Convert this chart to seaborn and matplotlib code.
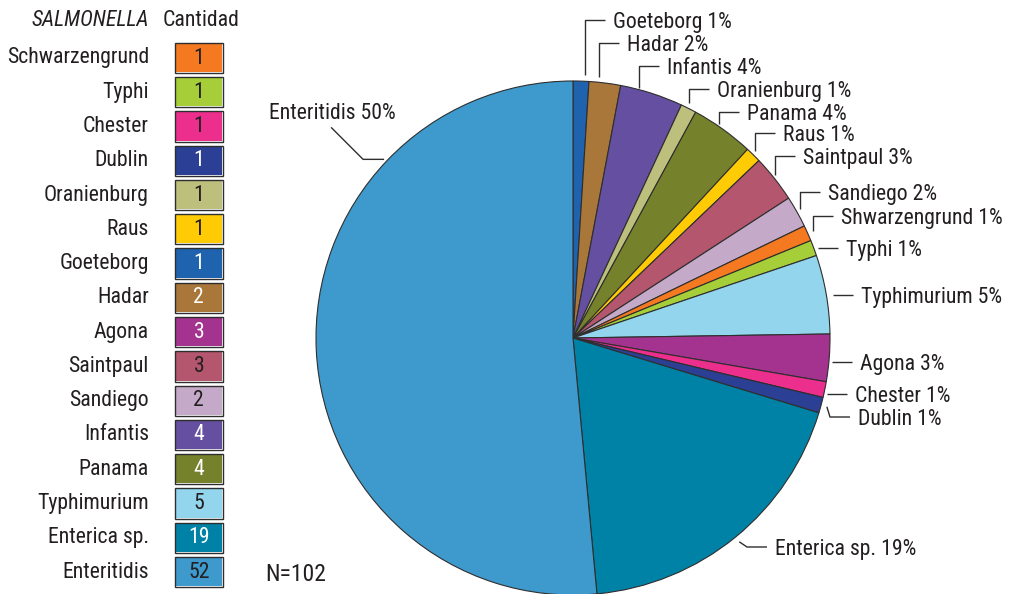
import numpy as np
import matplotlib
matplotlib.use("Agg")
import matplotlib.pyplot as plt
from matplotlib.colors import ListedColormap
from matplotlib.patches import Rectangle
import seaborn as sns

# ---------------- data ----------------
legend_names = ["Schwarzengrund", "Typhi", "Chester", "Dublin", "Oranienburg", "Raus",
                "Goeteborg", "Hadar", "Agona", "Saintpaul", "Sandiego", "Infantis",
                "Panama", "Typhimurium", "Enterica sp.", "Enteritidis"]
legend_counts = [1, 1, 1, 1, 1, 1, 1, 2, 3, 3, 2, 4, 4, 5, 19, 52]

pie_names = ["Goeteborg", "Hadar", "Infantis", "Oranienburg", "Panama", "Raus", "Saintpaul",
             "Sandiego", "Shwarzengrund", "Typhi", "Typhimurium", "Agona", "Chester",
             "Dublin", "Enterica sp.", "Enteritidis"]
pie_counts = [1, 2, 4, 1, 4, 1, 3, 2, 1, 1, 5, 3, 1, 1, 19, 52]
pie_pcts = [1, 2, 4, 1, 4, 1, 3, 2, 1, 1, 5, 3, 1, 1, 19, 50]
n_text = "N=102"

colors = {
    "Schwarzengrund": "#F47920", "Shwarzengrund": "#F47920", "Typhi": "#A6CE39",
    "Chester": "#EC2E8C", "Dublin": "#2B3F94", "Oranienburg": "#BDBF7D",
    "Raus": "#FFCB05", "Goeteborg": "#1F63AF", "Hadar": "#A9773A", "Agona": "#A3338F",
    "Saintpaul": "#B3566E", "Sandiego": "#C4AAC8", "Infantis": "#654FA0",
    "Panama": "#75812B", "Typhimurium": "#92D5ED", "Enterica sp.": "#0082A6",
    "Enteritidis": "#3E9ACD",
}
white_text = {"Dublin", "Goeteborg", "Hadar", "Agona", "Infantis", "Panama", "Enterica sp."}

# ---------------- style ----------------
sns.set_theme(style="white")
plt.rcParams["font.family"] = ["Roboto Condensed", "DejaVu Sans"]
TXT = "#231f20"
EDGE = "#2e2e2e"
FS = 15.7

W, H = 1009, 594
fig = plt.figure(figsize=(W / 100, H / 100), dpi=100)

# ---------------- pie ----------------
CX, CY, R = 573, 338, 257
ax_pie = fig.add_axes([(CX - R) / W, (H - CY - R) / H, 2 * R / W, 2 * R / H])
wedges, _ = ax_pie.pie(pie_counts, colors=[colors[n] for n in pie_names], startangle=90,
                       counterclock=False,
                       wedgeprops=dict(edgecolor=EDGE, linewidth=0.8))
for w in wedges:
    w.set_clip_on(False)
ax_pie.set_xlim(-1, 1)
ax_pie.set_ylim(-1, 1)
ax_pie.set_aspect("auto")
ax_pie.axis("off")

# ---------------- overlay for labels ----------------
ax_o = fig.add_axes([0, 0, 1, 1])
ax_o.set_xlim(0, W)
ax_o.set_ylim(H, 0)
ax_o.axis("off")

counts = np.array(pie_counts, dtype=float)
total = counts.sum()
starts = np.cumsum(counts) - counts
mid_deg = (starts + counts / 2) / total * 360.0

lab_x = [613, 627, 667, 717, 747, 783, 803, 828, 841, 846, 861, 860, 855, 858, 775, 396]
lab_y = [20, 43, 66, 89, 112, 133, 156, 192, 216, 248, 295, 362, 394, 417, 547, 111]
styles = ["v"] * 9 + ["h"] * 4 + ["d", "d", "e"]


def edge_pt(deg, r):
    a = np.deg2rad(deg)
    return CX + r * np.sin(a), CY - r * np.cos(a)


for name, pct, tx, ty, st, md in zip(pie_names, pie_pcts, lab_x, lab_y, styles, mid_deg):
    if st == "v":
        _, ye = edge_pt(md, R + 6)
        pts = [(tx - 8, ty), (tx - 28, ty), (tx - 28, ye)]
    elif st == "h":
        pts = [(tx - 8, ty), (tx - 28, ty)]
    elif st == "d":
        pts = [(tx - 8, ty), (tx - 28, ty), edge_pt(md, R + 6)]
    else:
        axp, ayp = edge_pt(313.4, R + 3)
        pts = [(axp, ayp), (axp - 21, ayp), (axp - 53, ayp - 32)]
    xs, ys = zip(*pts)
    ax_o.plot(xs, ys, color=EDGE, lw=1.0, solid_capstyle="butt")
    ax_o.text(tx, ty + 8, f"{name} {pct}%", ha="right" if st == "e" else "left",
              va="baseline", fontsize=FS, color=TXT)

# ---------------- legend table (heatmap) ----------------
LX0, LX1 = 173, 224.7
ROW0, PITCH = 58, 34.27
top = ROW0 - PITCH / 2
nrow = len(legend_names)
ax_leg = fig.add_axes([LX0 / W, (H - (top + nrow * PITCH)) / H, (LX1 - LX0) / W, nrow * PITCH / H])
data = np.arange(nrow).reshape(-1, 1)
cmap = ListedColormap([colors[n] for n in legend_names])
sns.heatmap(data, ax=ax_leg, cmap=cmap, vmin=-0.5, vmax=nrow - 0.5,
            annot=np.array(legend_counts).reshape(-1, 1), fmt="d", cbar=False,
            linewidths=2.9, linecolor="white", xticklabels=False,
            yticklabels=legend_names, annot_kws=dict(fontsize=FS))
for t, n in zip(ax_leg.texts, legend_names):
    t.set_color("white" if n in white_text else TXT)
ax_leg.set_yticklabels(legend_names, rotation=0, fontsize=FS, color=TXT)
ax_leg.tick_params(axis="y", length=0, pad=17.3)
dx = 2.0 / (LX1 - LX0)
dy = 2.0 / PITCH
for i in range(nrow):
    ax_leg.add_patch(Rectangle((dx, i + dy), 1 - 2 * dx, 1 - 2 * dy, fill=False,
                               edgecolor=EDGE, lw=1.0, clip_on=False))

ax_o.text(149, 26, "SALMONELLA", ha="right", va="baseline", fontsize=FS, style="italic", color=TXT)
ax_o.text(163, 26, "Cantidad", ha="left", va="baseline", fontsize=FS, color=TXT)
ax_o.text(265, 581, n_text, ha="left", va="baseline", fontsize=17, color=TXT)

fig.savefig("out.png", dpi=100)
